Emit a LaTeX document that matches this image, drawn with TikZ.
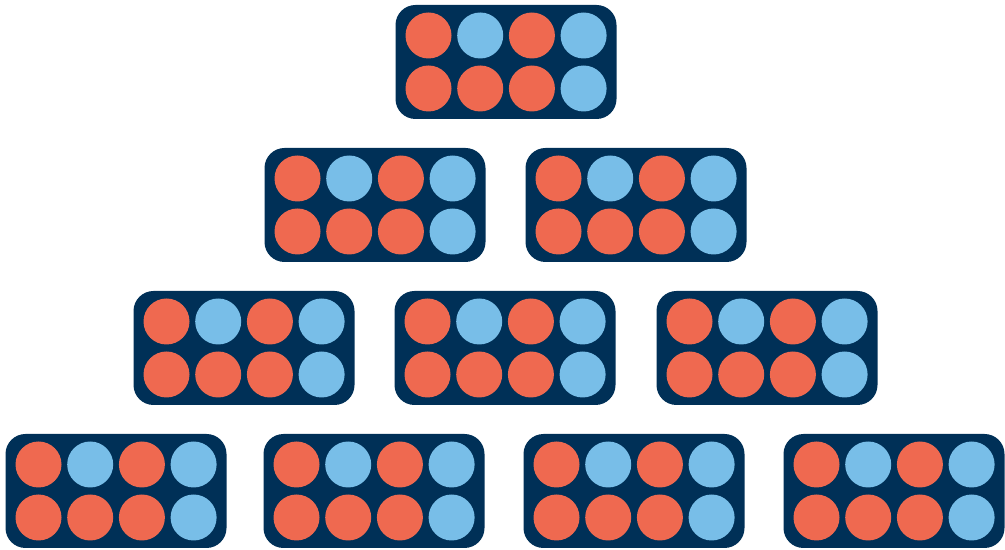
\documentclass[tikz,border=0pt]{standalone}
\usetikzlibrary{positioning}
\definecolor{cnavy}{HTML}{003057}
\definecolor{corange}{HTML}{EF6950}
\definecolor{cblue}{HTML}{78BEE8}
\tikzset{
  tray/.style={fill=cnavy, rounded corners=20*0.02cm, minimum width=221*0.02cm, minimum height=114*0.02cm, inner sep=0pt},
  dot/.style={circle, fill=#1, minimum size=46*0.02cm, inner sep=0pt},
}
% one tray of 2x4 dots: name, x, y
\newcommand{\tenframe}[3]{%
  \node[tray] (#1) at (#2,#3) {};
  \foreach \c [count=\i from 0] in {corange,cblue,corange,cblue}
    \node[dot=\c] (#1-t\i) at ($(#1.center)+(\i*51.7-77.5,-26.5)$) {};
  \foreach \c [count=\i from 0] in {corange,corange,corange,cblue}
    \node[dot=\c] (#1-b\i) at ($(#1.center)+(\i*51.7-77.5,26.5)$) {};
}
\usetikzlibrary{calc}
\begin{document}
\begin{tikzpicture}[x=0.02cm, y=-0.02cm]
  \useasboundingbox (0,0) rectangle (1005,550);
  % top row
  \tenframe{r1a}{506}{62}
  % second row
  \tenframe{r2a}{375}{205}
  \tenframe{r2b}{636}{205}
  % third row
  \tenframe{r3a}{244}{348}
  \tenframe{r3b}{505}{348}
  \tenframe{r3c}{767}{348}
  % bottom row
  \tenframe{r4a}{116}{491}
  \tenframe{r4b}{374}{491}
  \tenframe{r4c}{634}{491}
  \tenframe{r4d}{894}{491}
\end{tikzpicture}
\end{document}
